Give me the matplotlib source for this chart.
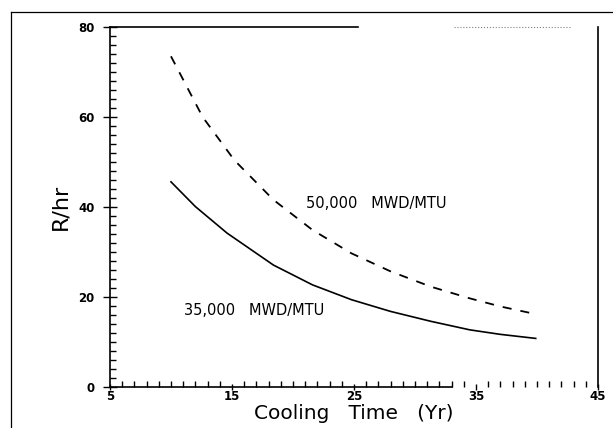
import matplotlib.pyplot as plt
from matplotlib.lines import Line2D
from matplotlib.ticker import MultipleLocator
import numpy as np

years_50k = [10.0, 12.6, 15.2, 18.4, 21.6, 24.8, 28.0, 31.3, 34.5, 37.0, 39.9]
rate_50k = [73.5, 60.0, 50.4, 41.6, 34.9, 29.7, 25.7, 22.3, 19.7, 17.9, 16.2]

years_35k = [10.0, 12.0, 14.6, 18.4, 21.6, 24.8, 28.0, 31.3, 34.5, 37.0, 39.9]
rate_35k = [45.6, 40.1, 34.2, 27.1, 22.7, 19.4, 16.8, 14.6, 12.7, 11.7, 10.8]

label_50k = '50,000   MWD/MTU'
label_35k = '35,000   MWD/MTU'

fig = plt.figure(figsize=(6.13, 4.28), dpi=100)
ax = fig.add_axes([0.1794, 0.0958, 0.796, 0.841])

ax.plot(years_50k, rate_50k, color='black', lw=1.3, dashes=(5, 5))
ax.plot(years_35k, rate_35k, color='black', lw=1.2)

ax.text(21.1, 40.7, label_50k, fontsize=10.5, va='center', ha='left')
ax.text(11.1, 16.9, label_35k, fontsize=10.5, va='center', ha='left')

ax.set_xlim(5, 45)
ax.set_ylim(0, 80)
ax.set_xticks([5, 15, 25, 35, 45])
ax.set_yticks([0, 20, 40, 60, 80])
ax.xaxis.set_minor_locator(MultipleLocator(1))
ax.yaxis.set_minor_locator(MultipleLocator(2))
ax.tick_params(axis='y', which='major', direction='inout', length=10, width=1.0,
               labelsize=8.5, pad=6)
ax.tick_params(axis='x', which='major', direction='inout', length=5, width=1.0,
               labelsize=8.5, pad=0)
ax.tick_params(axis='both', which='minor', direction='in', length=4, width=1.0)
for lab in ax.get_xticklabels() + ax.get_yticklabels():
    lab.set_fontweight('bold')

# the scan has a broken top edge and a bottom axis that fades after 33
ax.spines['top'].set_visible(False)
ax.spines['bottom'].set_bounds(5, 33)
for s in ['left', 'right', 'bottom']:
    ax.spines[s].set_linewidth(1.2)
ax.plot([5, 25.3], [80, 80], color='black', lw=1.2, clip_on=False)
ax.plot([33.2, 42.8], [80, 80], color='gray', lw=0.8, ls=':', clip_on=False)

ax.set_xlabel('Cooling   Time   (Yr)', fontsize=14.5)
ax.xaxis.set_label_coords(0.5, -0.047)
ax.set_ylabel('R/hr', fontsize=16, labelpad=6)

# page frame from the scan
fig.add_artist(Line2D([0.018, 0.018], [0.0, 0.972], color='black', lw=0.9))
fig.add_artist(Line2D([0.018, 1.0], [0.972, 0.972], color='black', lw=0.9))

fig.savefig('out.png', dpi=100)
